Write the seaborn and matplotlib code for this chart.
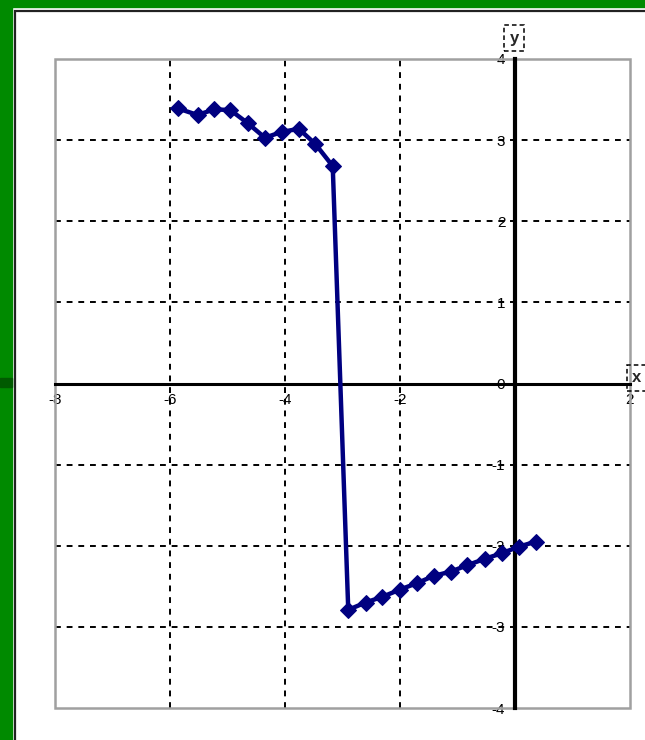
import numpy as np
import pandas as pd
import matplotlib
matplotlib.use('Agg')
import matplotlib.pyplot as plt
import seaborn as sns
from matplotlib.patches import Rectangle

# =============================================================================
# data
# =============================================================================
x_upper = [-5.86, -5.52, -5.23, -4.95, -4.65, -4.35, -4.06, -3.76, -3.47, -3.17]
y_upper = [3.39, 3.31, 3.38, 3.37, 3.21, 3.03, 3.10, 3.14, 2.95, 2.68]
x_lower = [-2.90, -2.60, -2.31, -2.00, -1.70, -1.41, -1.12, -0.83, -0.52, -0.22, 0.07, 0.36]
y_lower = [-2.79, -2.70, -2.63, -2.54, -2.46, -2.37, -2.32, -2.24, -2.16, -2.09, -2.01, -1.95]

x_ticks = [-8, -6, -4, -2, 0, 2]
x_ticklabels = ['-8', '-6', '-4', '-2', '', '2']
y_ticks = [-4, -3, -2, -1, 0, 1, 2, 3, 4]
y_ticklabels = ['-4', '-3', '-2', '-1', '0', '1', '2', '3', '4']

df = pd.DataFrame({'x': x_upper + x_lower, 'y': y_upper + y_lower})

# =============================================================================
# figure
# =============================================================================
sns.set_style('white')
plt.rcParams['font.family'] = ['Liberation Sans', 'DejaVu Sans']

W, H = 645, 740
fig = plt.figure(figsize=(W / 100, H / 100), dpi=100, facecolor='white')

# green slide frame + dark border
fig.patches.append(Rectangle((0, 0), 12 / W, 1, transform=fig.transFigure, color='#008a00', zorder=0))
fig.patches.append(Rectangle((0, 1 - 7 / H), 1, 7 / H, transform=fig.transFigure, color='#008a00', zorder=0))
fig.patches.append(Rectangle((0, 1 - 387 / H), 12 / W, 9 / H, transform=fig.transFigure, color='#005a00', zorder=0))
fig.patches.append(Rectangle((15 / W, -0.1), 1.2, 1 - 11 / H + 0.1, transform=fig.transFigure,
                             fill=False, ec='#222222', lw=1.6, zorder=1))

ax = fig.add_axes([55 / W, 32 / H, 575 / W, 649 / H])
ax.set_xlim(-8, 2)
ax.set_ylim(-4, 4)

# dashed grid for the inner ticks only
for xv in x_ticks[1:-1]:
    if xv != 0:
        ax.axvline(xv, color='black', ls=(0, (3, 3)), lw=1.4, zorder=1)
for yv in y_ticks[1:-1]:
    if yv != 0:
        ax.axhline(yv, color='black', ls=(0, (3, 3)), lw=1.4, zorder=1)

# gray plot-area frame
ax.add_patch(Rectangle((0, 0), 1, 1, transform=ax.transAxes, fill=False,
                       ec='#a0a0a0', lw=1.8, clip_on=False, zorder=1.5))

# axes through the origin
for side in ['top', 'right']:
    ax.spines[side].set_visible(False)
ax.spines['left'].set_position(('data', 0))
ax.spines['bottom'].set_position(('data', 0))
ax.spines['left'].set_linewidth(3)
ax.spines['bottom'].set_linewidth(2.2)
ax.spines['left'].set_color('black')
ax.spines['bottom'].set_color('black')

ax.set_xticks(x_ticks)
ax.set_xticklabels(x_ticklabels)
ax.set_yticks(y_ticks)
ax.set_yticklabels(y_ticklabels)
ax.tick_params(direction='out', length=5, width=1.5, colors='black', labelsize=11, pad=2)
for lab in ax.get_yticklabels() + ax.get_xticklabels():
    lab.set_bbox(dict(fc='white', ec='none', pad=0.3))

sns.lineplot(data=df, x='x', y='y', sort=False, ax=ax, color='#000080', lw=3.2,
             marker='D', markersize=8, markeredgecolor='#000080', zorder=3, clip_on=False)
ax.set_xlabel('')
ax.set_ylabel('')

# axis names in dashed boxes
box = dict(boxstyle='square,pad=0.35', fc='none', ec='black', ls=(0, (3, 2)), lw=1.1)
fig.text(514 / W, 1 - 38 / H, 'y', ha='center', va='center', fontsize=12, fontweight='bold', bbox=box)
fig.text(637 / W, 1 - 378 / H, 'x', ha='center', va='center', fontsize=12, fontweight='bold', bbox=box)

fig.savefig('out.png', dpi=100, facecolor='white')
